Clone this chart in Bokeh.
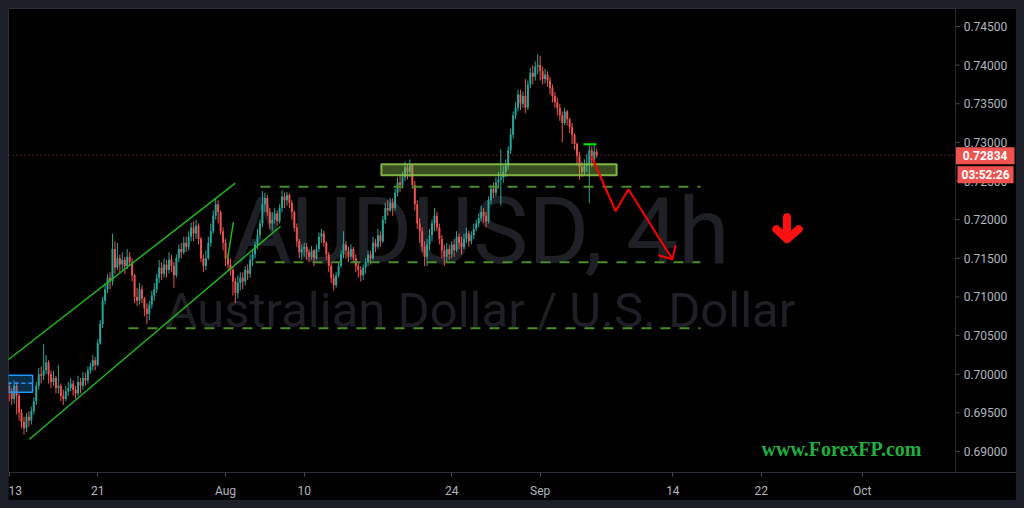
from bokeh.plotting import figure
from bokeh.models import (ColumnDataSource, FixedTicker, Label, Span, Range1d)
from bokeh.core.properties import value
from bokeh.embed import file_html
from bokeh.resources import INLINE

# ---------------- data (AUDUSD 4h, bar index 0 = Jul 13) ----------------
first_open = 0.6985
closes = [
    0.6978, 0.6968, 0.6985, 0.6972, 0.6950, 0.6938, 0.6930, 0.6945, 0.6940, 0.6952,
    0.6965, 0.6985, 0.7000, 0.6998, 0.7005, 0.7015, 0.7000, 0.6990, 0.6995, 0.6982,
    0.6985, 0.6972, 0.6968, 0.6978, 0.6982, 0.6988, 0.6980, 0.6975, 0.6990, 0.6985,
    0.6995, 0.6992, 0.7005, 0.7010, 0.7018, 0.7012, 0.7040, 0.7065, 0.7095, 0.7110,
    0.7125, 0.7120, 0.7162, 0.7138, 0.7150, 0.7142, 0.7148, 0.7140, 0.7152, 0.7145,
    0.7128, 0.7100, 0.7095, 0.7110, 0.7098, 0.7085, 0.7078, 0.7090, 0.7102, 0.7110,
    0.7125, 0.7138, 0.7130, 0.7142, 0.7135, 0.7148, 0.7140, 0.7128, 0.7150, 0.7162,
    0.7158, 0.7170, 0.7165, 0.7178, 0.7190, 0.7182, 0.7192, 0.7175, 0.7150, 0.7140,
    0.7150, 0.7170, 0.7185, 0.7205, 0.7220, 0.7210, 0.7185, 0.7170, 0.7150, 0.7142,
    0.7135, 0.7120, 0.7105, 0.7118, 0.7125, 0.7120, 0.7135, 0.7130, 0.7148, 0.7155,
    0.7168, 0.7180, 0.7195, 0.7220, 0.7228, 0.7210, 0.7195, 0.7200, 0.7208, 0.7198,
    0.7215, 0.7230, 0.7225, 0.7232, 0.7222, 0.7210, 0.7190, 0.7172, 0.7158, 0.7162,
    0.7165, 0.7158, 0.7152, 0.7160, 0.7150, 0.7162, 0.7178, 0.7182, 0.7170, 0.7155,
    0.7140, 0.7125, 0.7115, 0.7128, 0.7140, 0.7155, 0.7168, 0.7160, 0.7152, 0.7162,
    0.7150, 0.7140, 0.7135, 0.7128, 0.7138, 0.7145, 0.7155, 0.7150, 0.7170, 0.7165,
    0.7180, 0.7172, 0.7200, 0.7215, 0.7212, 0.7222, 0.7215, 0.7235, 0.7248, 0.7245,
    0.7255, 0.7268, 0.7262, 0.7270, 0.7245, 0.7220, 0.7195, 0.7185, 0.7165, 0.7152,
    0.7168, 0.7180, 0.7195, 0.7205, 0.7190, 0.7175, 0.7160, 0.7152, 0.7162, 0.7155,
    0.7168, 0.7160, 0.7178, 0.7170, 0.7165, 0.7175, 0.7182, 0.7172, 0.7180, 0.7188,
    0.7195, 0.7202, 0.7210, 0.7205, 0.7198, 0.7225, 0.7240, 0.7235, 0.7248, 0.7252,
    0.7255, 0.7262, 0.7270, 0.7290, 0.7310, 0.7335, 0.7345, 0.7362, 0.7350, 0.7360,
    0.7345, 0.7375, 0.7390, 0.7385, 0.7398, 0.7400, 0.7392, 0.7382, 0.7388, 0.7380,
    0.7370, 0.7360, 0.7352, 0.7345, 0.7335, 0.7325, 0.7340, 0.7330, 0.7320, 0.7310,
    0.7298, 0.7282, 0.7268, 0.7262, 0.7270, 0.7272, 0.7290, 0.7278, 0.7288, 0.72834,
]
highs = [
    0.6990, 0.6982, 0.6992, 0.6990, 0.6975, 0.6955, 0.6945, 0.6950, 0.6952, 0.6958,
    0.6970, 0.6990, 0.7008, 0.7010, 0.7039, 0.7025, 0.7018, 0.7005, 0.7004, 0.6998,
    0.7012, 0.6988, 0.6980, 0.6985, 0.6990, 0.6995, 0.6992, 0.6985, 0.6998, 0.6995,
    0.7003, 0.7002, 0.7010, 0.7015, 0.7025, 0.7022, 0.7045, 0.7070, 0.7100, 0.7118,
    0.7130, 0.7132, 0.7182, 0.7172, 0.7170, 0.7155, 0.7158, 0.7152, 0.7162, 0.7158,
    0.7150, 0.7130, 0.7112, 0.7118, 0.7115, 0.7100, 0.7092, 0.7095, 0.7108, 0.7118,
    0.7130, 0.7148, 0.7145, 0.7150, 0.7148, 0.7158, 0.7155, 0.7145, 0.7155, 0.7168,
    0.7170, 0.7178, 0.7178, 0.7185, 0.7196, 0.7198, 0.7200, 0.7195, 0.7178, 0.7155,
    0.7160, 0.7178, 0.7195, 0.7212, 0.7228, 0.7225, 0.7212, 0.7190, 0.7175, 0.7155,
    0.7150, 0.7140, 0.7125, 0.7128, 0.7132, 0.7132, 0.7140, 0.7142, 0.7155, 0.7162,
    0.7172, 0.7188, 0.7200, 0.7237, 0.7235, 0.7232, 0.7215, 0.7210, 0.7215, 0.7212,
    0.7220, 0.7238, 0.7235, 0.7236, 0.7234, 0.7225, 0.7212, 0.7195, 0.7175, 0.7168,
    0.7170, 0.7170, 0.7162, 0.7166, 0.7162, 0.7168, 0.7183, 0.7188, 0.7186, 0.7172,
    0.7158, 0.7145, 0.7130, 0.7132, 0.7145, 0.7160, 0.7185, 0.7172, 0.7165, 0.7168,
    0.7165, 0.7155, 0.7145, 0.7140, 0.7142, 0.7150, 0.7160, 0.7160, 0.7178, 0.7175,
    0.7188, 0.7185, 0.7205, 0.7222, 0.7225, 0.7228, 0.7228, 0.7240, 0.7255, 0.7258,
    0.7262, 0.7275, 0.7272, 0.7278, 0.7272, 0.7250, 0.7225, 0.7202, 0.7190, 0.7172,
    0.7175, 0.7188, 0.7200, 0.7215, 0.7210, 0.7195, 0.7180, 0.7168, 0.7170, 0.7168,
    0.7172, 0.7175, 0.7185, 0.7182, 0.7178, 0.7182, 0.7190, 0.7186, 0.7185, 0.7195,
    0.7200, 0.7208, 0.7218, 0.7215, 0.7210, 0.7230, 0.7245, 0.7248, 0.7255, 0.7262,
    0.7291, 0.7270, 0.7278, 0.7295, 0.7318, 0.7340, 0.7352, 0.7368, 0.7368, 0.7366,
    0.7382, 0.7380, 0.7396, 0.7400, 0.7405, 0.7414, 0.7412, 0.7398, 0.7395, 0.7392,
    0.7385, 0.7375, 0.7365, 0.7358, 0.7350, 0.7340, 0.7345, 0.7342, 0.7332, 0.7325,
    0.7312, 0.7300, 0.7288, 0.7275, 0.7278, 0.7285, 0.7298, 0.7295, 0.7298, 0.7292,
]
lows = [
    0.6965, 0.6960, 0.6962, 0.6948, 0.6940, 0.6930, 0.6922, 0.6925, 0.6932, 0.6935,
    0.6948, 0.6960, 0.6980, 0.6988, 0.6992, 0.7000, 0.6988, 0.6982, 0.6985, 0.6975,
    0.6975, 0.6965, 0.6960, 0.6965, 0.6972, 0.6978, 0.6972, 0.6968, 0.6972, 0.6975,
    0.6980, 0.6985, 0.6988, 0.7000, 0.7005, 0.7005, 0.7010, 0.7038, 0.7060, 0.7090,
    0.7105, 0.7110, 0.7115, 0.7130, 0.7135, 0.7132, 0.7135, 0.7130, 0.7136, 0.7140,
    0.7120, 0.7092, 0.7088, 0.7090, 0.7092, 0.7075, 0.7065, 0.7070, 0.7085, 0.7095,
    0.7105, 0.7118, 0.7122, 0.7125, 0.7125, 0.7130, 0.7132, 0.7112, 0.7125, 0.7145,
    0.7150, 0.7155, 0.7158, 0.7160, 0.7172, 0.7172, 0.7175, 0.7168, 0.7145, 0.7132,
    0.7135, 0.7148, 0.7165, 0.7182, 0.7200, 0.7195, 0.7180, 0.7160, 0.7140, 0.7135,
    0.7128, 0.7102, 0.7092, 0.7098, 0.7108, 0.7110, 0.7115, 0.7122, 0.7125, 0.7140,
    0.7150, 0.7162, 0.7175, 0.7190, 0.7210, 0.7205, 0.7188, 0.7185, 0.7195, 0.7192,
    0.7195, 0.7210, 0.7215, 0.7218, 0.7215, 0.7200, 0.7185, 0.7165, 0.7150, 0.7148,
    0.7152, 0.7148, 0.7145, 0.7148, 0.7140, 0.7148, 0.7158, 0.7170, 0.7165, 0.7148,
    0.7132, 0.7118, 0.7108, 0.7112, 0.7125, 0.7138, 0.7150, 0.7150, 0.7145, 0.7148,
    0.7145, 0.7132, 0.7125, 0.7120, 0.7122, 0.7130, 0.7140, 0.7142, 0.7148, 0.7158,
    0.7162, 0.7165, 0.7170, 0.7195, 0.7205, 0.7210, 0.7205, 0.7212, 0.7230, 0.7236,
    0.7240, 0.7250, 0.7252, 0.7255, 0.7240, 0.7212, 0.7188, 0.7170, 0.7158, 0.7140,
    0.7140, 0.7160, 0.7172, 0.7185, 0.7185, 0.7168, 0.7150, 0.7140, 0.7145, 0.7148,
    0.7150, 0.7152, 0.7158, 0.7162, 0.7155, 0.7162, 0.7170, 0.7165, 0.7168, 0.7175,
    0.7185, 0.7190, 0.7198, 0.7196, 0.7190, 0.7195, 0.7220, 0.7228, 0.7230, 0.7240,
    0.7218, 0.7248, 0.7255, 0.7265, 0.7285, 0.7305, 0.7330, 0.7340, 0.7342, 0.7345,
    0.7338, 0.7342, 0.7370, 0.7375, 0.7380, 0.7388, 0.7380, 0.7375, 0.7376, 0.7372,
    0.7362, 0.7352, 0.7345, 0.7335, 0.7328, 0.7300, 0.7322, 0.7322, 0.7312, 0.7298,
    0.7290, 0.7270, 0.7252, 0.7255, 0.7258, 0.7262, 0.7221, 0.7268, 0.7275, 0.7280,
]
last_price = 0.72834
countdown = "03:52:26"

x_tick_pos = [0, 36, 88, 120, 180, 216, 270, 306, 347]
x_tick_labels = ["13", "21", "Aug", "10", "24", "Sep", "14", "22", "Oct"]
y_ticks = [0.690, 0.695, 0.700, 0.705, 0.710, 0.715, 0.720, 0.725, 0.730,
           0.735, 0.740, 0.745]

# drawings (bar index, price)
channel_upper = ([-0.7, 92.0], [0.70181, 0.72472])
channel_lower = ([8.2, 110.4], [0.69159, 0.71915])
small_leg = ([88.8, 91.2], [0.71488, 0.71967])
levels = [(102.2, 281.2, 0.72427), (100.2, 281.2, 0.71450), (48.5, 281.2, 0.70595)]
zone = (151.4, 247.1, 0.72575, 0.72718)
blue_zone = (-0.7, 9.5, 0.69767, 0.69987, 0.69884)
top_mark = ([233.6, 238.9], [0.72977, 0.72977])
zigzag = ([236.9, 246.7, 251.9, 269.8], [0.72821, 0.72109, 0.72394, 0.71488])
zig_head = ([264.1, 269.8, 271.1], [0.71540, 0.71488, 0.71669])
big_arrow_shaft = ([316.4, 316.4], [0.72032, 0.71773])
big_arrow_head = ([312.1, 316.4, 321.2], [0.71877, 0.71747, 0.71877])

# price-scale column (right side of the pane), in bar-index units
scale_left = 385.0
scale_right = 409.8

# ---------------- derived candle table ----------------
n = len(closes)
opens = [first_open] + closes[:-1]
idx = list(range(n))
hi = [max(h, o, c) for h, o, c in zip(highs, opens, closes)]
lo = [min(l, o, c) for l, o, c in zip(lows, opens, closes)]
up_c, dn_c = "#26a69a", "#ef5350"
col = [up_c if c >= o else dn_c for o, c in zip(opens, closes)]
top = [max(o, c) for o, c in zip(opens, closes)]
bot = [min(o, c) for o, c in zip(opens, closes)]
bot = [b if t - b > 0.00003 else t - 0.00003 for t, b in zip(top, bot)]
src = ColumnDataSource(dict(x=idx, hi=hi, lo=lo, top=top, bot=bot, col=col))

# ---------------- figure ----------------
p = figure(width=1008, height=492, x_range=Range1d(-0.3, scale_right),
           y_range=Range1d(0.68728, 0.74733), y_axis_location=None,
           output_backend="svg", toolbar_location=None,
           min_border_left=0, min_border_top=0, min_border_right=0,
           min_border_bottom=28)
p.background_fill_color = "#000000"
p.border_fill_color = "#000000"
p.outline_line_color = "#2a2e39"
p.xgrid.visible = False
p.ygrid.visible = False

ax = p.xaxis[0]
ax.axis_line_color = "#2a2e39"
ax.major_tick_line_color = "#4a4e59"
ax.major_tick_out = 4
ax.major_tick_in = 0
ax.minor_tick_line_color = None
ax.major_label_text_color = "#b2b5be"
ax.major_label_text_font = "Roboto"
ax.major_label_text_font_size = "12px"
ax.ticker = FixedTicker(ticks=x_tick_pos)
ax.major_label_overrides = {t: l for t, l in zip(x_tick_pos, x_tick_labels)}
ax.major_label_standoff = 7

# watermark
wm_col = "#1e2026"
p.add_layout(Label(x=191.7, y=0.71851, text="AUDUSD, 4h", text_align="center",
                   text_baseline="alphabetic", text_font="Roboto",
                   text_font_size="93px", text_color=wm_col, level="underlay"))
p.add_layout(Label(x=191.7, y=0.70828, text="Australian Dollar / U.S. Dollar",
                   text_align="center", text_baseline="alphabetic",
                   text_font="Roboto", text_font_size="49px", text_color=wm_col,
                   level="underlay"))

# candles
p.segment(x0="x", x1="x", y0="lo", y1="hi", color="col", line_width=1, source=src)
p.vbar(x="x", width=0.8, top="top", bottom="bot", fill_color="col",
       line_color=None, source=src)

# drawings
g = "#1fb51f"
p.line(*channel_upper, line_color=g, line_width=1.5)
p.line(*channel_lower, line_color=g, line_width=1.5)
p.line(*small_leg, line_color=g, line_width=1.5)
for x0, x1, lev in levels:
    p.line([x0, x1], [lev, lev], line_color="#4a8c2a", line_width=2,
           line_dash="10 9")
p.quad(left=zone[0], right=zone[1], bottom=zone[2], top=zone[3],
       fill_color="#8bc34a", fill_alpha=0.4, line_color="#8bc34a",
       line_width=2, line_alpha=0.9)
p.quad(left=blue_zone[0], right=blue_zone[1], bottom=blue_zone[2],
       top=blue_zone[3], fill_color="#2196f3", fill_alpha=0.3,
       line_color="#2196f3", line_width=1.5)
p.line([blue_zone[0], blue_zone[1]], [blue_zone[4], blue_zone[4]],
       line_color="#2196f3", line_width=1.5, line_dash="4 3")
p.line(*top_mark, line_color="#00e600", line_width=2)
p.line(*zigzag, line_color="#ff0000", line_width=2)
p.line(*zig_head, line_color="#ff0000", line_width=2)
p.line(*big_arrow_shaft, line_color="#ff1010", line_width=8, line_cap="round")
p.line(*big_arrow_head, line_color="#ff1010", line_width=8, line_cap="round",
       line_join="round")

# current price line (pane only)
p.line([-0.3, scale_left], [last_price, last_price], line_color="#c8443f",
       line_dash="1 3", line_width=1)

p.add_layout(Label(x=338.6, y=0.69029, text="www.ForexFP.com", text_align="center",
                   text_baseline="alphabetic", text_font="Liberation Serif",
                   text_font_style="bold", text_font_size="20px",
                   text_color="#1fae3f"))

# ---------------- price scale (right column) ----------------
p.quad(left=scale_left, right=scale_right, bottom=0.68728, top=0.74733,
       fill_color="#000000", line_color=None)
p.add_layout(Span(location=scale_left, dimension="height", line_color="#2a2e39",
                  line_width=1))
p.segment(x0=[scale_left] * len(y_ticks), x1=[scale_left + 1.6] * len(y_ticks),
          y0=y_ticks, y1=y_ticks, line_color="#4a4e59", line_width=1)
p.text(x=[scale_left + 3.3] * len(y_ticks), y=y_ticks,
       text=["%.5f" % t for t in y_ticks], text_align="left",
       text_baseline="middle", text_font=value("Roboto"),
       text_font_size="12px", text_color="#b2b5be")

# price tag + countdown
p.quad(left=scale_left, right=scale_left + 24.0, bottom=0.72718, top=0.72938,
       fill_color="#ef5350", line_color=None)
p.text(x=[scale_left + 12.0], y=[last_price], text=["%.5f" % last_price],
       text_align="center", text_baseline="middle", text_font=value("Roboto"),
       text_font_size="12px", text_font_style="bold", text_color="#ffffff")
p.quad(left=scale_left + 0.8, right=scale_left + 23.6, bottom=0.72472,
       top=0.72692, fill_color="#ef5350", line_color=None)
p.text(x=[scale_left + 12.2], y=[0.72582], text=[countdown],
       text_align="center", text_baseline="middle", text_font=value("Roboto"),
       text_font_size="12px", text_font_style="bold", text_color="#ffffff")

html = file_html(p, INLINE)
html += ("\n<style>html, body { background-color: #1c1f27 !important; }"
         " body { padding: 8px !important; box-sizing: border-box !important; }"
         "</style>\n")
open("out.html", "w").write(html)
